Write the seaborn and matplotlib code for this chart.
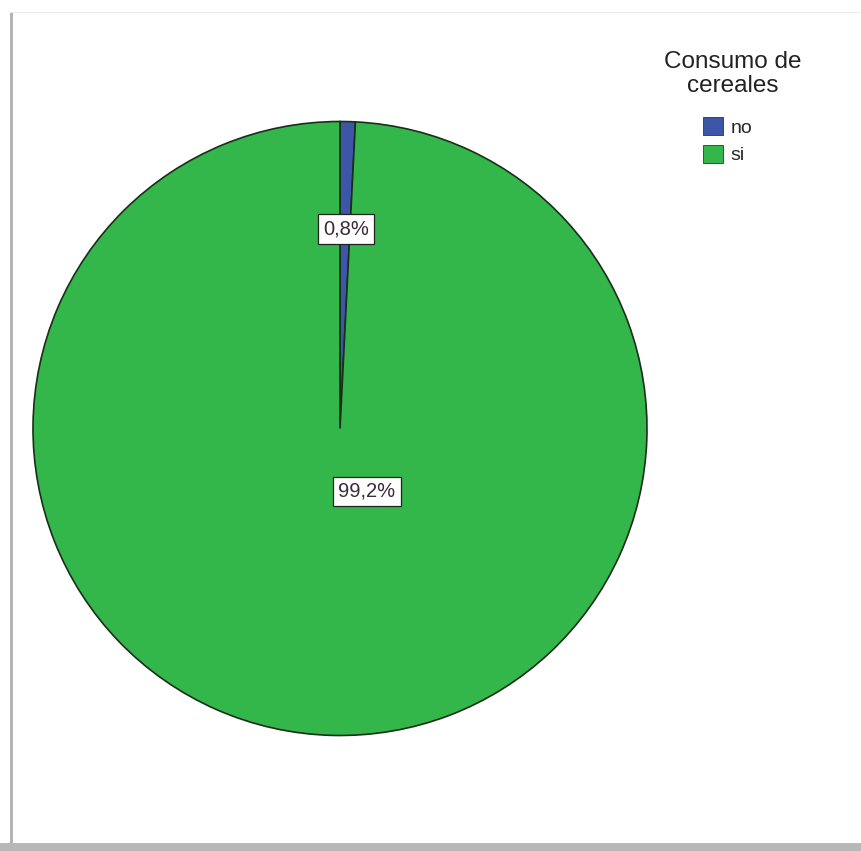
import matplotlib
matplotlib.use("Agg")
import matplotlib.pyplot as plt
from matplotlib.patches import Rectangle, Patch
import numpy as np
import seaborn as sns

# Consumo de cereales: share of respondents
categories = ["no", "si"]
percentages = [0.8, 99.2]
legend_title = "Consumo de\ncereales"

sns.set_style("white")
plt.rcParams["font.family"] = ["Liberation Sans", "DejaVu Sans"]

colors = ["#3d56a8", "#33b64a"]
edge = "#1a2e1c"

W, H = 862, 851
fig = plt.figure(figsize=(W / 100, H / 100), dpi=100)
fig.patch.set_facecolor("white")

# window frame: faint top rule, grey left rule and bottom bar
fig.add_artist(Rectangle((10 / W, 1 - 843 / H), 3 / W, 831 / H,
                         transform=fig.transFigure, color="#b4b4b4", lw=0))
fig.add_artist(Rectangle((10 / W, 1 - 13 / H), 1 - 10 / W, 1.5 / H,
                         transform=fig.transFigure, color="#ececec", lw=0))
fig.add_artist(Rectangle((0, 0), 1, 8 / H,
                         transform=fig.transFigure, color="#b8b8b8", lw=0))

# pie axes: centre (340, 428.5), radius 307 px
cx, cy, r = 340, 428.5, 307
ax = fig.add_axes([(cx - r) / W, 1 - (cy + r) / H, 2 * r / W, 2 * r / H])

wedges, _ = ax.pie(percentages, colors=colors, startangle=90, counterclock=False,
                   radius=1, wedgeprops=dict(edgecolor=edge, linewidth=1.2))
ax.set_xlim(-1, 1)
ax.set_ylim(-1, 1)
ax.set_aspect("equal")
ax.axis("off")

def fmt(v):
    return f"{v:.1f}%".replace(".", ",")

box = dict(boxstyle="square,pad=0.25", facecolor="white", edgecolor="#222222", linewidth=0.9)

# "no" label on its wedge bisector
mid = np.deg2rad((wedges[0].theta1 + wedges[0].theta2) / 2)
ax.text(0.65 * np.cos(mid) + 0.003, 0.65 * np.sin(mid), fmt(percentages[0]),
        ha="center", va="center", fontsize=14.5, color="#3a2a3a", bbox=box)
# "si" label near the centre
ax.text(0.088, -0.205, fmt(percentages[1]),
        ha="center", va="center", fontsize=14.5, color="#3a2a3a", bbox=box)

# legend title and entries
fig.text(733 / W, 1 - 51 / H, legend_title, ha="center", va="top",
         fontsize=17.5, color="#222222", linespacing=1.12)
handles = [Patch(facecolor=c, edgecolor="#333333", linewidth=0.6) for c in colors]
fig.legend(handles, categories, loc="upper left",
           bbox_to_anchor=(703 / W, 1 - 117 / H),
           frameon=False, fontsize=14,
           handlelength=1.05, handleheight=1.05, handletextpad=0.35,
           labelspacing=0.42, borderpad=0.0, borderaxespad=0.0)

fig.savefig("out.png", dpi=100, facecolor="white")
